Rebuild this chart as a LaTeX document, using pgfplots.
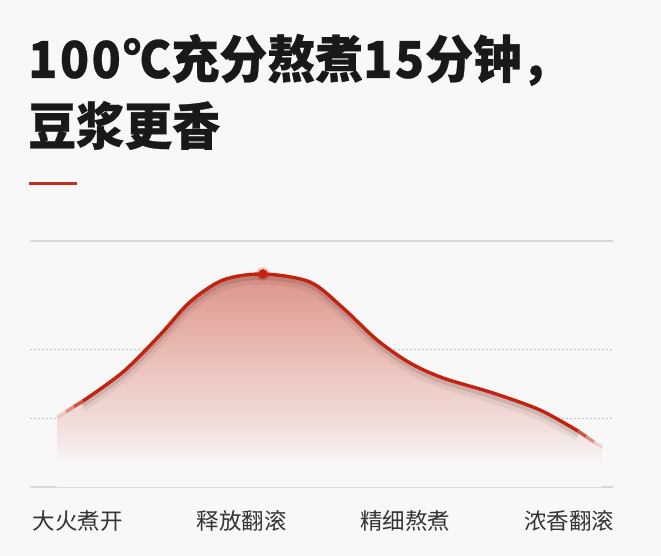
\documentclass[border=0pt]{standalone}
\usepackage{fontspec}
\setmainfont{Noto Sans CJK SC}
\usepackage{pgfplots}
\usepackage{pgfplotstable}
\pgfplotsset{compat=1.18}

\definecolor{bg}{RGB}{248,248,248}
\definecolor{curvered}{RGB}{196,34,14}
\definecolor{rulered}{RGB}{192,48,30}
\definecolor{gridsolid}{RGB}{216,216,216}
\definecolor{griddash}{RGB}{196,196,196}
\definecolor{filltop}{RGB}{221,148,138}
\definecolor{fillmid}{RGB}{236,198,192}

% area fill: strong under the peak, gone before the bottom line
\pgfdeclareverticalshading{areafade}{100bp}{%
  color(0bp)=(bg); color(30bp)=(bg); color(40bp)=(fillmid!55!bg);
  color(52bp)=(fillmid); color(75bp)=(filltop); color(100bp)=(filltop)}

% curve, x in category units, y in px above the base line
\pgfplotstableread{
  x      y
  0.031  86
  0.275  115
  0.501  152
  0.684  185
  0.886  207
  1.130  213
  1.417  205
  1.619  179
  1.827  147
  2.028  124
  2.230  109
  2.535  94
  2.822  77
  3.054  56
}\curve
\pgfplotstableread{
  x      y
  -0.128 70
  0.031  86
  0.275  115
  0.501  152
  0.684  185
  0.886  207
  1.130  213
  1.417  205
  1.619  179
  1.827  147
  2.028  124
  2.230  109
  2.535  94
  2.822  77
  3.054  56
  3.201  40
}\area

\begin{document}
\begin{tikzpicture}
  \path[use as bounding box, fill=bg] (0,0) rectangle (661pt,-556pt);

  % title
  \node[anchor=base west, inner sep=0pt, text=black!90, yscale=1.06]
    at (28pt,-78pt) {\fontsize{48}{68}\selectfont\bfseries\addfontfeature{FakeBold=0.6}1\kern2.5pt0\kern2.5pt0\kern1pt°\kern-3pt C充分熬煮1\kern2.5pt5\kern1pt分钟，};
  \node[anchor=base west, inner sep=0pt, text=black!90, yscale=1.06]
    at (28pt,-145pt) {\fontsize{48}{68}\selectfont\bfseries\addfontfeature{FakeBold=0.6}豆浆更香};
  \fill[rulered] (29pt,-182pt) rectangle (77pt,-185pt);

  \begin{axis}[
      at={(30pt,-487pt)}, anchor=south west,
      scale only axis,
      width=583pt, height=246pt,
      xmin=-0.293, xmax=3.268,
      ymin=0, ymax=246,
      axis line style={draw=none},
      tick style={draw=none},
      xtick={0,1,2,3},
      xticklabels={大火煮开,释放翻滚,精细熬煮,浓香翻滚},
      xticklabel style={anchor=center, yshift=-34pt, font=\fontsize{22.5}{26}\selectfont, text=black!80},
      ytick={69,138},
      yticklabels={},
      ymajorgrids,
      grid style={griddash, line width=0.8pt, dash pattern=on 2pt off 2pt},
      extra y ticks={0,246},
      extra y tick labels={},
      extra y tick style={grid style={gridsolid, line width=1.3pt, solid}},
      clip=false,
    ]
    % area under the curve
    \addplot[draw=none, smooth, shading=areafade] table {\area} \closedcycle;

    % soft shadow under the line
    \addplot[smooth, black, opacity=0.05, line width=9pt, yshift=-6pt] table {\curve};
    \addplot[smooth, black, opacity=0.10, line width=4pt, yshift=-4pt] table {\curve};

    % the curve
    \addplot[smooth, curvered, line width=3.4pt] table {\curve};

    % faded ends of the curve
    \addplot[curvered, line width=3.4pt, opacity=0.75] coordinates {(-0.024,80.5) (0.031,86)};
    \addplot[curvered, line width=3.4pt, opacity=0.45] coordinates {(-0.073,75.5) (-0.024,80.5)};
    \addplot[curvered, line width=3.4pt, opacity=0.15] coordinates {(-0.128,70) (-0.073,75.5)};
    \addplot[curvered, line width=3.4pt, opacity=0.75] coordinates {(3.054,56) (3.103,50.5)};
    \addplot[curvered, line width=3.4pt, opacity=0.45] coordinates {(3.103,50.5) (3.152,45)};
    \addplot[curvered, line width=3.4pt, opacity=0.15] coordinates {(3.152,45) (3.201,40)};

    % peak dot
    \addplot[only marks, mark=*, mark size=6.5pt, curvered, opacity=0.22]
      coordinates {(1.130,213)};
    \addplot[only marks, mark=*, mark size=4.5pt, curvered]
      coordinates {(1.130,213)};
  \end{axis}
\end{tikzpicture}
\end{document}
